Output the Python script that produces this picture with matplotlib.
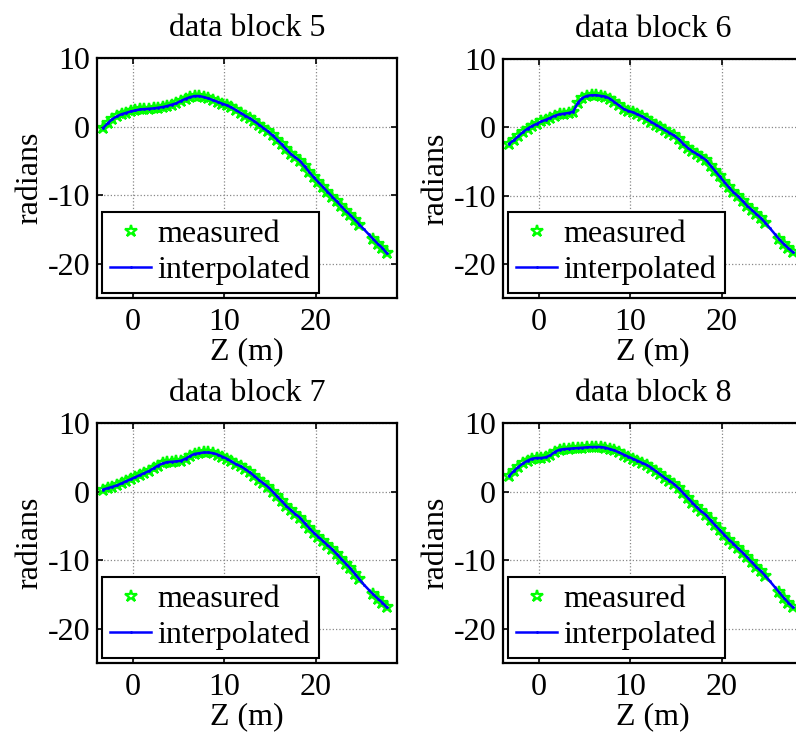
import matplotlib
matplotlib.use("Agg")
import matplotlib.pyplot as plt
import numpy as np

plt.rcParams["font.family"] = ["Liberation Serif", "DejaVu Serif"]
plt.rcParams["font.size"] = 23
plt.rcParams["axes.unicode_minus"] = False

# sample positions along the beam line (m)
z = [-3.25, -2.75, -2.25, -1.75, -1.25, -0.75, -0.25, 0.25, 0.75,
     1.25, 1.75, 2.25, 2.75, 3.25, 3.75, 4.25, 4.75, 5.25,
     5.75, 6.25, 6.75, 7.25, 7.75, 8.25, 8.75, 9.25, 9.75,
     10.25, 10.75, 11.25, 11.75, 12.25, 12.75, 13.25, 13.75, 14.25,
     14.75, 15.25, 15.75, 16.25, 16.75, 17.25, 17.75, 18.25, 18.75,
     19.25, 19.75, 20.25, 20.75, 21.25, 21.75, 22.25, 22.75, 23.25,
     23.75, 24.25, 24.75, 25.25, 25.75, 26.25, 26.75, 27.25, 27.75]

# phase (radians) per data block
block5 = [-0.2, 0.5, 1.1, 1.5, 1.8, 2.0, 2.2, 2.35, 2.5,
          2.55, 2.6, 2.65, 2.75, 2.85, 3.0, 3.2, 3.4, 3.75,
          4.05, 4.3, 4.45, 4.45, 4.3, 4.1, 3.85, 3.6, 3.35,
          3.1, 2.8, 2.4, 2.0, 1.6, 1.2, 0.8, 0.3, -0.2,
          -0.7, -1.3, -1.9, -2.6, -3.3, -4.0, -4.5, -5.0, -5.8,
          -6.6, -7.4, -8.1, -8.8, -9.5, -10.2, -10.9, -11.6, -12.3,
          -12.9, -13.6, -14.3, -15.0, -15.7, -16.4, -17.1, -17.7, -18.5]
block6 = [-2.4, -1.9, -1.3, -0.7, -0.2, 0.2, 0.5, 0.85, 1.1,
          1.4, 1.7, 1.9, 2.0, 2.1, 2.3, 3.6, 4.3, 4.6,
          4.7, 4.7, 4.6, 4.5, 4.2, 3.7, 3.2, 2.7, 2.4,
          2.2, 1.9, 1.6, 1.2, 0.8, 0.4, 0.0, -0.4, -0.8,
          -1.2, -1.7, -2.4, -3.0, -3.5, -3.9, -4.3, -4.8, -5.6,
          -6.4, -7.2, -8.0, -8.8, -9.5, -10.1, -10.8, -11.5, -12.1,
          -12.7, -13.3, -14.0, -14.8, -15.6, -16.4, -17.1, -17.7, -18.3]
block7 = [0.3, 0.5, 0.7, 0.9, 1.2, 1.5, 1.8, 2.1, 2.4,
          2.7, 3.0, 3.4, 3.8, 4.1, 4.3, 4.35, 4.4, 4.5,
          4.8, 5.2, 5.5, 5.6, 5.7, 5.7, 5.6, 5.4, 5.1,
          4.8, 4.4, 4.0, 3.7, 3.3, 2.8, 2.3, 1.7, 1.2,
          0.7, 0.0, -0.7, -1.4, -2.1, -2.7, -3.3, -3.8, -4.6,
          -5.3, -6.0, -6.6, -7.2, -7.8, -8.4, -9.1, -9.8, -10.5,
          -11.2, -12.0, -12.8, -13.6, -14.3, -15.0, -15.6, -16.2, -16.9]
block8 = [2.3, 3.0, 3.6, 4.1, 4.5, 4.8, 4.9, 4.9, 5.0,
          5.3, 5.8, 6.1, 6.2, 6.25, 6.3, 6.35, 6.4, 6.45,
          6.5, 6.5, 6.5, 6.4, 6.2, 6.0, 5.7, 5.4, 5.1,
          4.8, 4.5, 4.2, 3.9, 3.5, 3.0, 2.5, 2.0, 1.6,
          1.1, 0.5, -0.2, -0.9, -1.6, -2.3, -2.9, -3.4, -4.2,
          -4.9, -5.6, -6.3, -7.0, -7.6, -8.3, -8.9, -9.6, -10.3,
          -11.0, -11.6, -12.3, -13.1, -13.9, -14.7, -15.5, -16.2, -16.9]

# positions where no measurement was taken (only interpolated)
missing_z = [25.25, 25.75]

titles = ["data block 5", "data block 6", "data block 7", "data block 8"]
blocks = [block5, block6, block7, block8]

W, H = 796, 736
fig = plt.figure(figsize=(W / 100, H / 100), dpi=100)

# axes boxes in pixels: left, top, width, height
boxes = [(97, 58, 300, 240), (503, 59, 300, 239),
         (97, 423, 300, 240), (503, 423, 300, 240)]

z_arr = np.array(z)
meas = ~np.isin(z_arr, missing_z)

for box, title, vals in zip(boxes, titles, blocks):
    l, t, w, h = box
    ax = fig.add_axes([l / W, 1 - (t + h) / H, w / W, h / H])
    v = np.array(vals)
    ax.plot(z_arr[meas], v[meas], linestyle="none", marker="*",
            markersize=9, markerfacecolor="none", markeredgecolor="#00ff00",
            markeredgewidth=1.6, label="measured")
    ax.plot(z_arr, v, color="#0000ff", linewidth=1.8, marker=".",
            markersize=2, label="interpolated")
    ax.set_xlim(-3.93, 28.85)
    ax.set_ylim(-25, 10)
    ax.set_xticks([0, 10, 20])
    ax.set_yticks([-20, -10, 0, 10])
    ax.grid(True, linestyle=":", color="#888888", linewidth=0.9)
    ax.tick_params(direction="in", length=4, width=1.2, top=True, right=True,
                   labelsize=23)
    ax.tick_params(axis="x", pad=7)
    ax.tick_params(axis="y", pad=5)
    for s in ax.spines.values():
        s.set_linewidth(1.6)
    ax.set_title(title, fontsize=23, pad=16)
    ax.set_xlabel("Z (m)", fontsize=23, labelpad=0)
    ax.set_ylabel("radians", fontsize=23, labelpad=2)
    leg = ax.legend(loc="lower left", fontsize=23, fancybox=False,
                    framealpha=1, edgecolor="black", handlelength=1.3,
                    handletextpad=0.2, borderpad=0.25, labelspacing=0.2,
                    borderaxespad=0.15)
    leg.get_frame().set_linewidth(1.5)

fig.savefig("out.png", dpi=100)
